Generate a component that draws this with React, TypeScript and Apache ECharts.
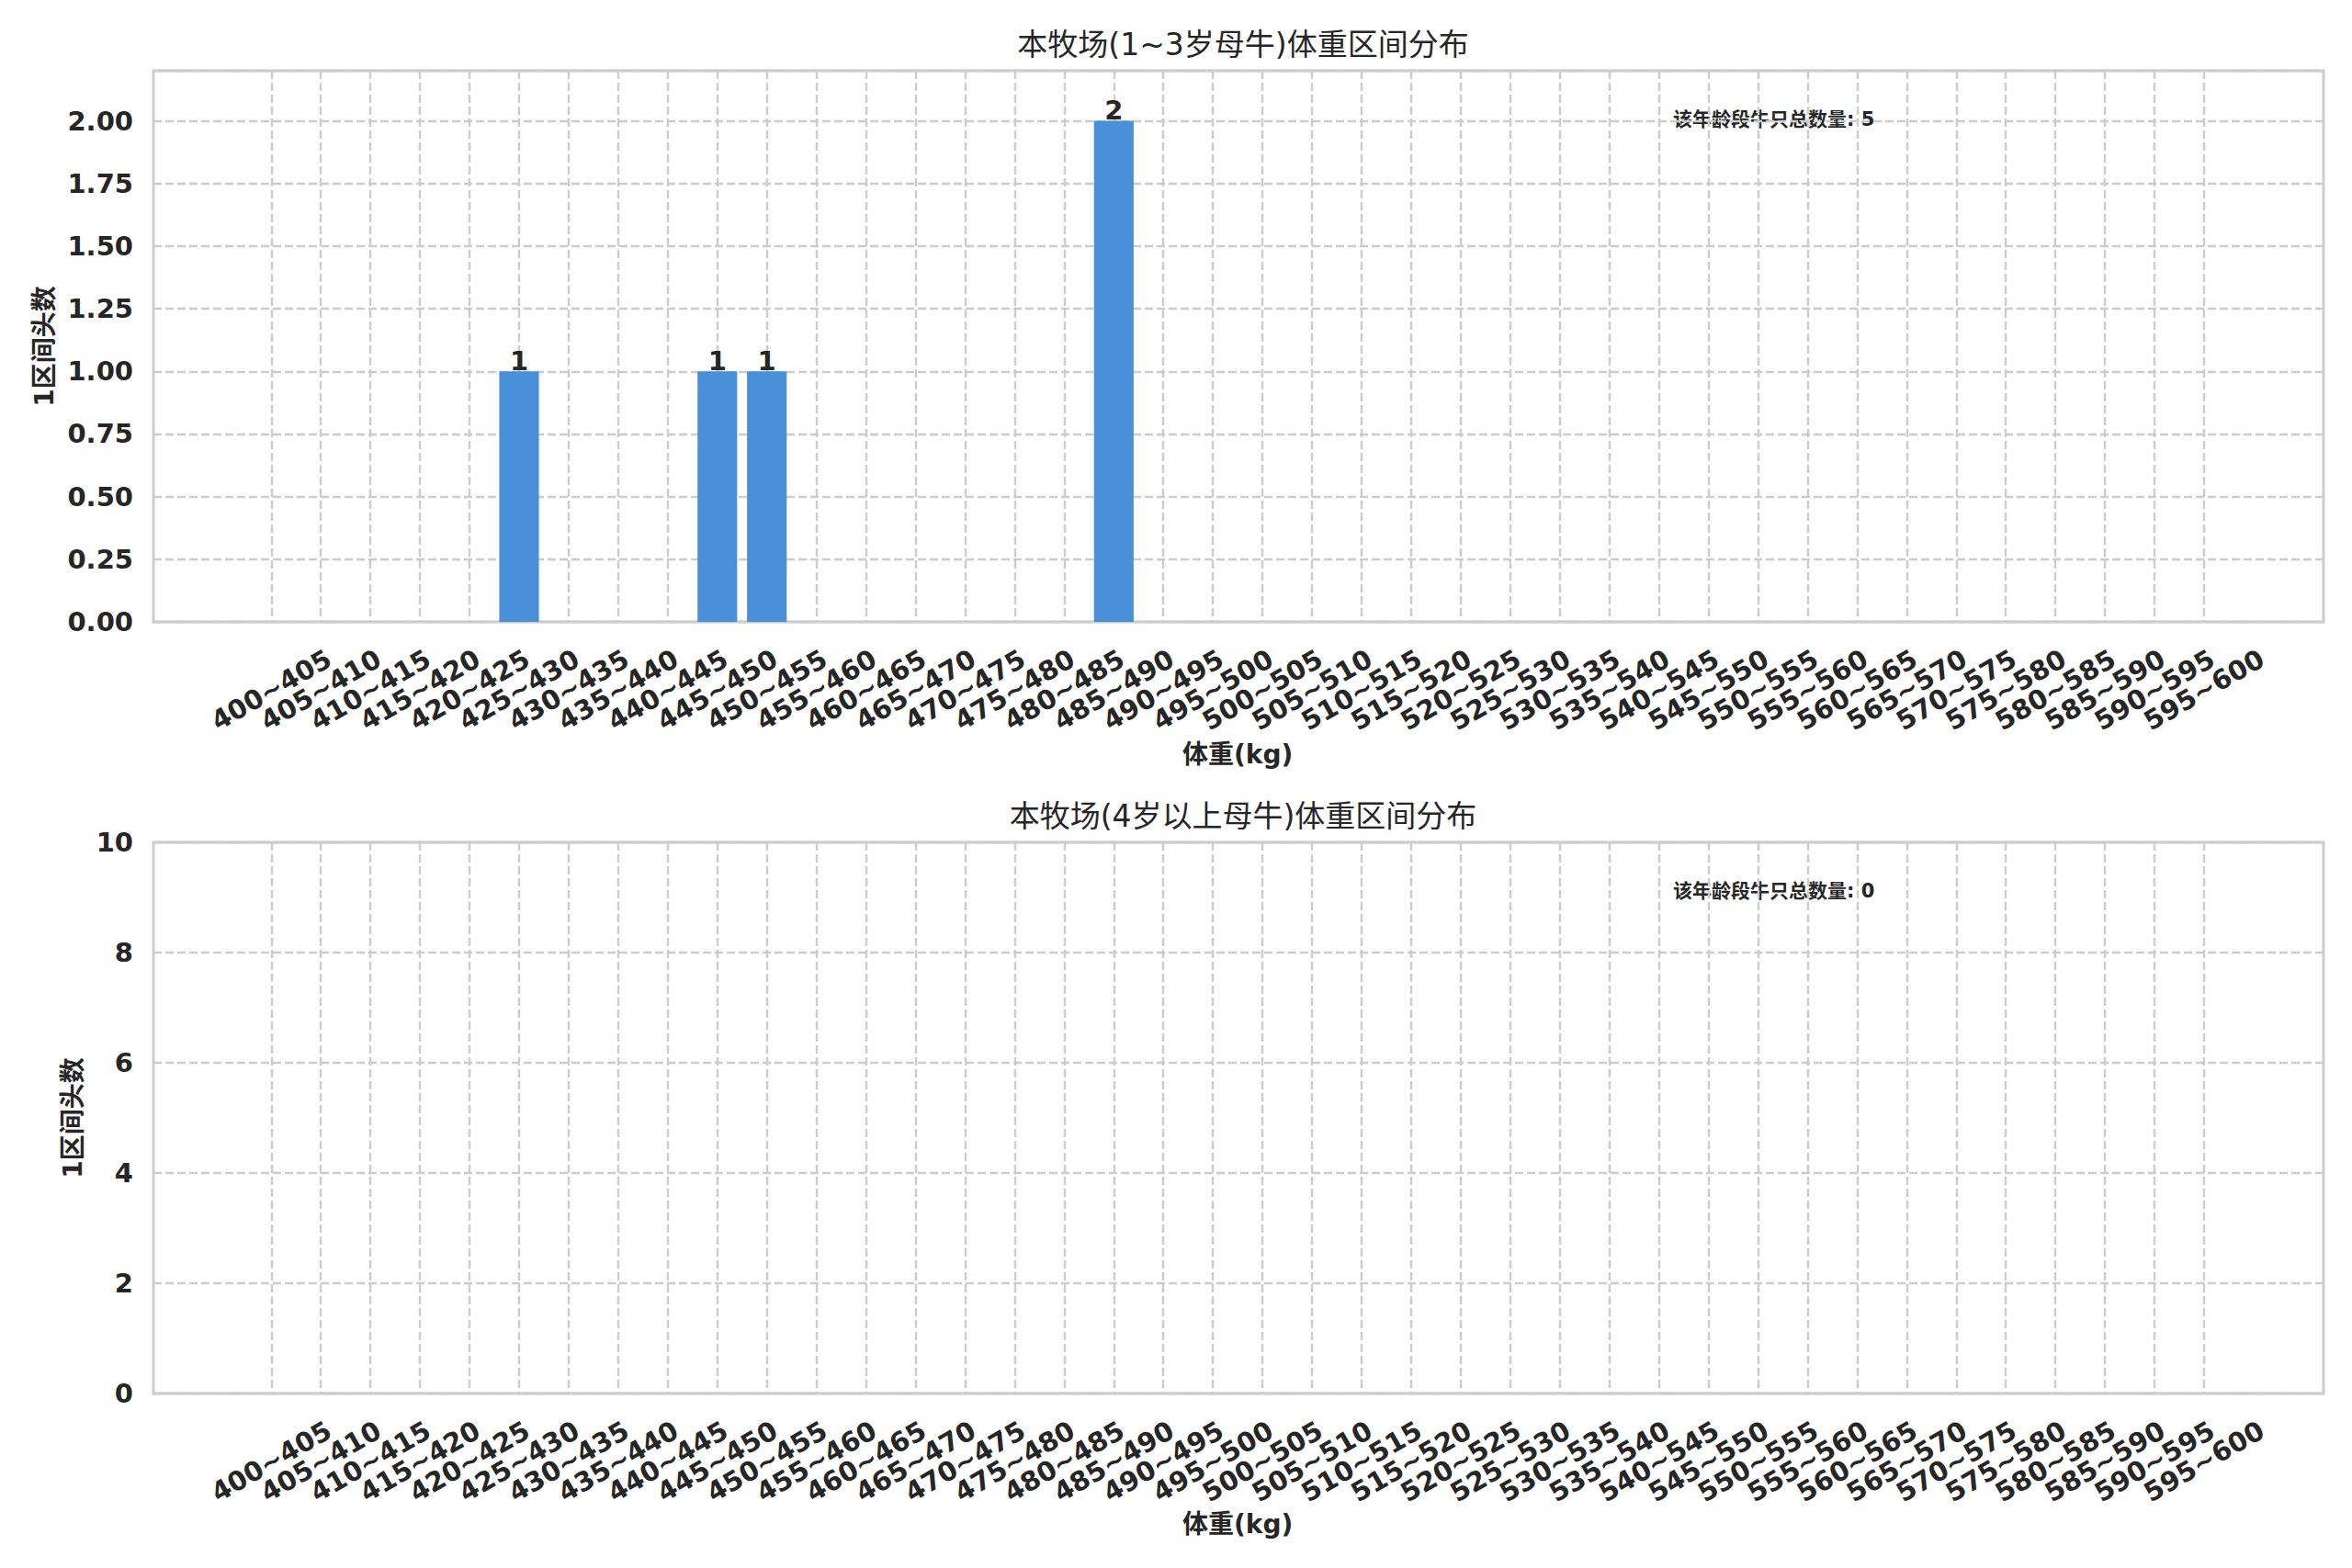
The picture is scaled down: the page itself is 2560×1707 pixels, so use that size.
import React, { useEffect, useRef } from "react";
import * as echarts from "echarts";

const categories = [
  "400~405", "405~410", "410~415", "415~420", "420~425", "425~430", "430~435", "435~440",
  "440~445", "445~450", "450~455", "455~460", "460~465", "465~470", "470~475", "475~480",
  "480~485", "485~490", "490~495", "495~500", "500~505", "505~510", "510~515", "515~520",
  "520~525", "525~530", "530~535", "535~540", "540~545", "545~550", "550~555", "555~560",
  "560~565", "565~570", "570~575", "575~580", "580~585", "585~590", "590~595", "595~600",
];

const countsYoung = [
  0, 0, 0, 0, 0, 1, 0, 0,
  0, 1, 1, 0, 0, 0, 0, 0,
  0, 2, 0, 0, 0, 0, 0, 0,
  0, 0, 0, 0, 0, 0, 0, 0,
  0, 0, 0, 0, 0, 0, 0, 0,
];

const countsAdult = [
  0, 0, 0, 0, 0, 0, 0, 0,
  0, 0, 0, 0, 0, 0, 0, 0,
  0, 0, 0, 0, 0, 0, 0, 0,
  0, 0, 0, 0, 0, 0, 0, 0,
  0, 0, 0, 0, 0, 0, 0, 0,
];

const titleYoung = "本牧场(1~3岁母牛)体重区间分布";
const titleAdult = "本牧场(4岁以上母牛)体重区间分布";
const xAxisName = "体重(kg)";
const yAxisName = "1区间头数";
const totalLabel = "该年龄段牛只总数量";

const yTicksYoung = { max: 2.2, interval: 0.25, lastLabel: 2.0, digits: 2 };
const yTicksAdult = { max: 10, interval: 2, lastLabel: 10, digits: 0 };

const FONT = "'DejaVu Sans', 'Noto Sans CJK SC', sans-serif";
const TEXT = "#262626";
const GRID = "#cccccc";
const BAR = "#4A90D9";

const sum = (a: number[]) => a.reduce((s, v) => s + v, 0);

export default function App() {
  const ref = useRef<HTMLDivElement>(null);

  useEffect(() => {
    document.body.style.margin = "0";
    if (!ref.current) return;
    const chart = echarts.init(ref.current, undefined, { renderer: "svg" });

    const frameLeft = 167;
    const frameWidth = 2362;
    const innerLeft = 295.3;
    const innerWidth = 2103.7;
    const plotH = 600;
    const tops = [77, 917];
    const panels = [
      { title: titleYoung, data: countsYoung, ticks: yTicksYoung, nameGap: 105, xNameGap: 130 },
      { title: titleAdult, data: countsAdult, ticks: yTicksAdult, nameGap: 74, xNameGap: 128 },
    ];

    const grid: any[] = [];
    const xAxis: any[] = [];
    const yAxis: any[] = [];
    const series: any[] = [];
    const title: any[] = [];
    const graphic: any[] = [];

    const dashed = { color: GRID, width: 2.4, type: [9, 4] };

    panels.forEach((p, i) => {
      const top = tops[i];
      grid.push({
        left: frameLeft, top, width: frameWidth, height: plotH,
        show: true, borderColor: GRID, borderWidth: 3, backgroundColor: "transparent",
      });
      grid.push({ left: innerLeft, top, width: innerWidth, height: plotH });
      const gFrame = i * 2;
      const gInner = i * 2 + 1;

      xAxis.push({ gridIndex: gFrame, type: "value", min: 0, max: 1, show: false });
      xAxis.push({
        gridIndex: gInner,
        type: "category",
        data: categories,
        boundaryGap: false,
        axisLine: { show: false },
        axisTick: { show: false },
        axisLabel: {
          interval: 0,
          rotate: 30,
          align: "center",
          verticalAlign: "middle",
          margin: 74,
          fontSize: 29,
          fontWeight: "bold",
          color: TEXT,
          fontFamily: FONT,
        },
        splitLine: { show: true, lineStyle: dashed },
        name: xAxisName,
        nameLocation: "middle",
        nameGap: p.xNameGap,
        nameTextStyle: { fontSize: 28, fontWeight: "bold", color: TEXT, fontFamily: FONT },
      });

      const t = p.ticks;
      yAxis.push({
        gridIndex: gFrame,
        type: "value",
        min: 0,
        max: t.max,
        interval: t.interval,
        axisLine: { show: false },
        axisTick: { show: false },
        axisLabel: {
          margin: 22,
          fontSize: 29,
          fontWeight: "bold",
          color: TEXT,
          fontFamily: FONT,
          formatter: (v: number) => (v > t.lastLabel + 1e-9 ? "" : v.toFixed(t.digits)),
        },
        splitLine: { show: true, lineStyle: dashed },
        name: yAxisName,
        nameLocation: "middle",
        nameRotate: 90,
        nameGap: p.nameGap,
        nameTextStyle: { fontSize: 28, fontWeight: "bold", color: TEXT, fontFamily: FONT },
      });
      yAxis.push({ gridIndex: gInner, type: "value", min: 0, max: t.max, show: false });

      series.push({
        type: "bar",
        xAxisIndex: gInner,
        yAxisIndex: gInner,
        data: p.data,
        barWidth: "80%",
        itemStyle: { color: BAR },
        label: {
          show: true,
          position: "top",
          distance: -3,
          fontSize: 29,
          fontWeight: "bold",
          color: TEXT,
          fontFamily: FONT,
          formatter: (q: any) => (q.value > 0 ? String(q.value) : ""),
        },
      });

      title.push({
        text: p.title,
        left: frameLeft + frameWidth / 2,
        top: top - 50,
        textAlign: "center",
        textStyle: { fontSize: 33, fontWeight: "normal", color: TEXT, fontFamily: FONT },
      });

      graphic.push({
        type: "text",
        x: 1821,
        y: top + 53,
        style: {
          text: `${totalLabel}: ${sum(p.data)}`,
          fontSize: 21,
          fontWeight: "bold",
          fontFamily: FONT,
          fill: TEXT,
          verticalAlign: "middle",
          textVerticalAlign: "middle",
        },
      });
    });

    chart.setOption({
      animation: false,
      backgroundColor: "#ffffff",
      title,
      grid,
      xAxis,
      yAxis,
      series,
      graphic,
    });

    return () => chart.dispose();
  }, []);

  return <div ref={ref} style={{ width: 2560, height: 1707 }} />;
}
